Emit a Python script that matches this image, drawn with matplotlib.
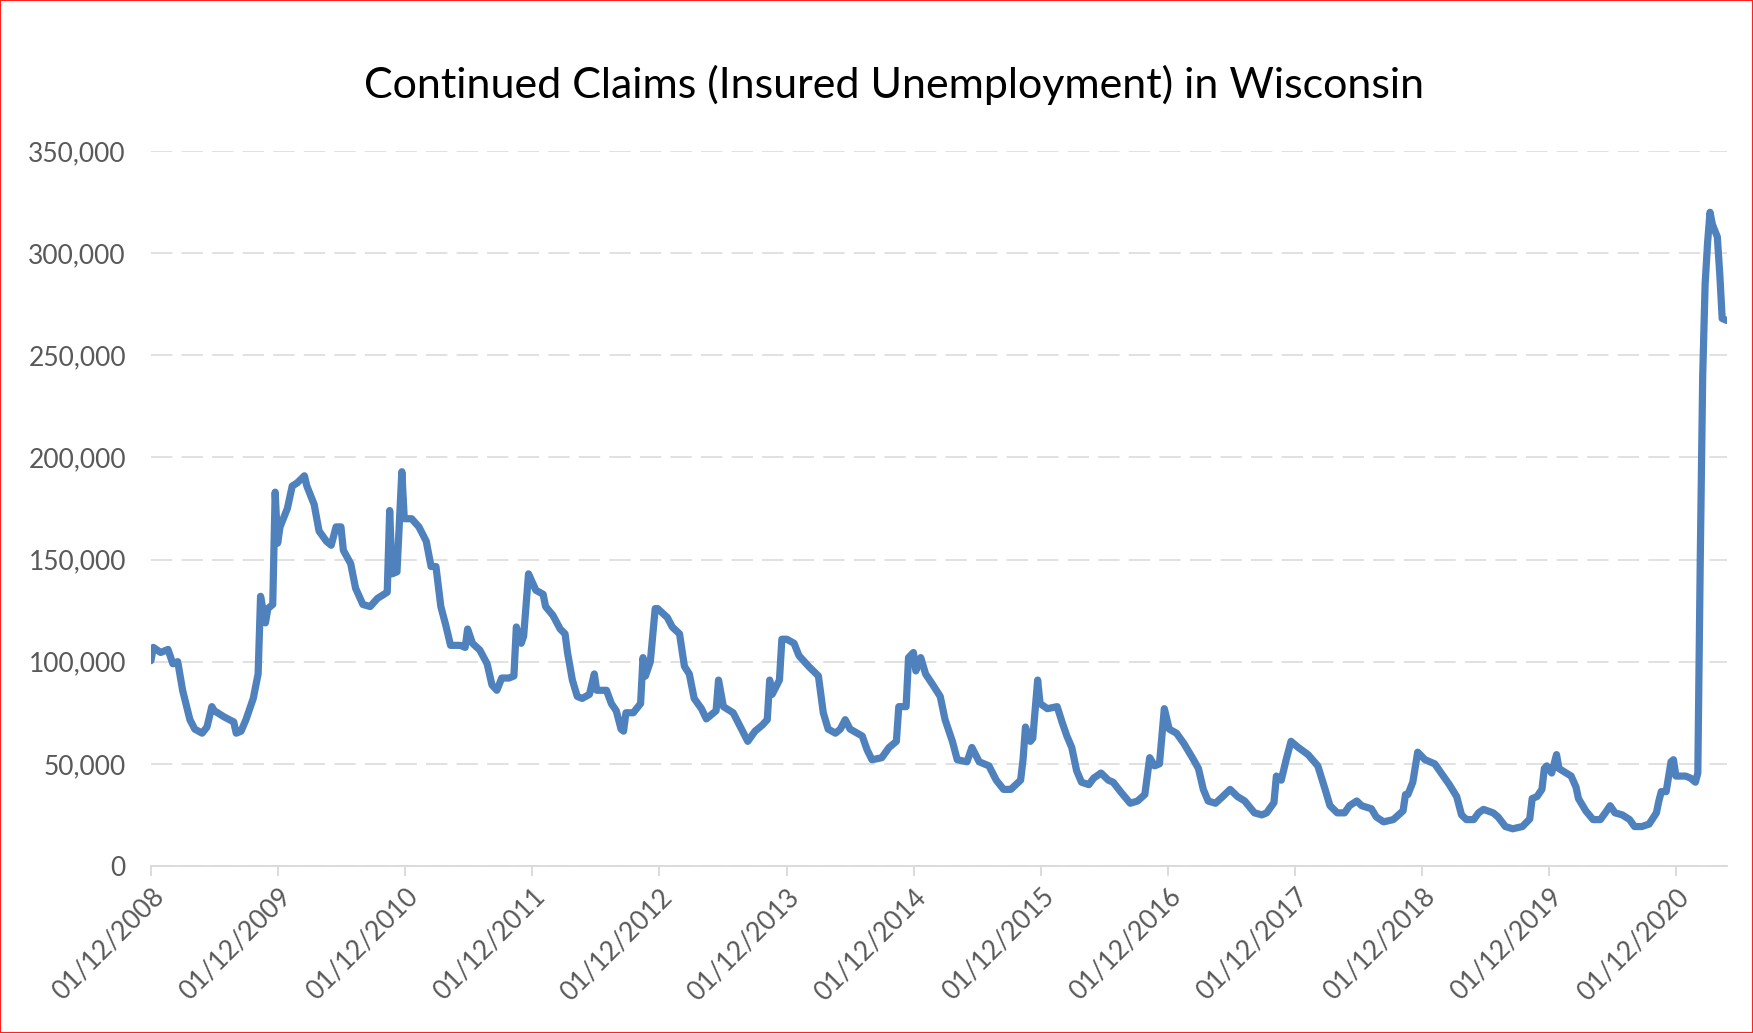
import numpy as np
import pandas as pd
import matplotlib
matplotlib.use("Agg")
import matplotlib.pyplot as plt
import matplotlib.dates as mdates
from matplotlib.ticker import FuncFormatter
from matplotlib.patches import Rectangle

plt.rcParams['font.family'] = ['Lato', 'DejaVu Sans']

title = "Continued Claims (Insured Unemployment) in Wisconsin"
start_date = "2008-01-12"

# weeks since 01/12/2008
week_no = [
    0, 1, 4, 7, 9, 11, 13, 16, 18, 21, 23, 25, 26, 30, 34, 35, 37, 39, 42, 44,
    45, 47, 48, 50, 51, 52, 53, 56, 58, 60, 63, 64, 67, 69, 72, 74, 76, 78, 79, 82,
    84, 87, 90, 93, 97, 98, 99, 101, 103, 104, 107, 110, 113, 115, 117, 119, 121, 123, 127, 129,
    130, 132, 135, 138, 140, 142, 144, 147, 149, 150, 152, 153, 155, 158, 161, 162, 165, 168, 170, 171,
    173, 175, 177, 180, 182, 183, 187, 189, 191, 193, 194, 195, 198, 201, 202, 203, 205, 207, 208, 212,
    214, 217, 219, 221, 223, 226, 228, 232, 233, 235, 239, 242, 245, 248, 251, 253, 254, 255, 258, 259,
    261, 264, 266, 270, 274, 276, 278, 281, 283, 285, 287, 292, 294, 296, 300, 303, 306, 307, 310, 311,
    313, 314, 316, 318, 321, 324, 326, 329, 331, 335, 337, 340, 344, 347, 350, 353, 357, 358, 359, 361,
    362, 364, 365, 368, 372, 374, 376, 378, 380, 382, 385, 387, 390, 393, 395, 398, 402, 405, 408, 410,
    412, 414, 416, 418, 421, 424, 428, 430, 432, 434, 437, 440, 443, 446, 449, 453, 456, 458, 461, 462,
    464, 466, 468, 471, 475, 479, 482, 484, 487, 490, 492, 495, 497, 501, 503, 506, 510, 514, 515, 516,
    518, 520, 521, 523, 527, 529, 533, 536, 538, 540, 543, 545, 547, 551, 553, 556, 559, 563, 566, 567,
    569, 571, 572, 573, 575, 577, 578, 581, 583, 585, 586, 589, 592, 595, 597, 599, 601, 604, 607, 609,
    612, 615, 618, 619, 620, 622, 624, 625, 626, 630, 632, 634, 635, 636, 637, 638, 639, 640, 641, 642,
    643, 644, 645, 646, 647,
]

claims = [
    100500, 107000, 104500, 106000, 99000, 100000, 86000, 71600, 67000, 65000, 68000, 78000, 76000, 73000, 70500, 65000, 66000, 71600, 82000, 94000,
    132000, 119000, 126000, 128000, 183000, 158000, 166000, 175000, 186000, 187500, 191000, 186000, 177000, 164000, 159000, 157000, 166000, 166000, 154500, 148000,
    136000, 128000, 127000, 131000, 134000, 174000, 143000, 144000, 193000, 170000, 170000, 166000, 159000, 146600, 146600, 127000, 118000, 108000, 108000, 107000,
    116000, 109000, 105700, 99000, 88600, 86000, 92000, 92000, 93000, 117000, 109000, 112500, 143000, 135000, 133000, 127000, 122700, 116000, 113600, 104500,
    91000, 83000, 82000, 84000, 94000, 86000, 86000, 79500, 76000, 67000, 66000, 75000, 75000, 79500, 102000, 93000, 100000, 126000, 126000, 121600,
    117000, 113600, 97700, 94000, 82000, 77000, 72000, 76000, 91000, 78000, 75000, 68000, 61000, 66000, 69000, 71600, 91000, 84000, 91000, 111000,
    111000, 109000, 103000, 97700, 93000, 75000, 67000, 65000, 67000, 71600, 67000, 63600, 56800, 52000, 53000, 58000, 61000, 78000, 78000, 102000,
    104500, 95500, 102000, 94000, 88600, 83000, 71600, 61000, 52000, 51000, 58000, 51000, 49000, 42000, 37500, 37500, 42000, 52000, 68000, 61000,
    62500, 91000, 79500, 77000, 78000, 70500, 63600, 58000, 46600, 41000, 39800, 43000, 45500, 42000, 41000, 36400, 30700, 31800, 35000, 53000,
    49000, 50000, 77000, 67000, 65000, 60000, 52000, 47700, 37500, 31800, 30700, 34000, 37500, 34000, 31800, 26000, 25000, 26000, 31000, 44000,
    42000, 52000, 61000, 58000, 54500, 49000, 37500, 29500, 26000, 26000, 29500, 31800, 29500, 28000, 24000, 21600, 22700, 27000, 35000, 35000,
    41000, 55700, 54500, 52000, 50000, 46600, 39800, 34000, 25000, 22700, 22700, 26000, 27700, 26000, 24000, 19300, 18200, 19300, 23000, 33000,
    34000, 37500, 47700, 49000, 45500, 54500, 47700, 45500, 44000, 38600, 33000, 27000, 22700, 22700, 26000, 29500, 26000, 25000, 22700, 19300,
    19300, 20500, 26000, 31800, 36400, 36400, 51000, 52000, 44000, 44000, 43000, 41000, 45500, 150000, 240000, 285000, 305000, 320000, 314000, 311000,
    308000, 290000, 268000, 267500, 267000,
]

tick_years = list(range(2008, 2021))
y_ticks = [0, 50000, 100000, 150000, 200000, 250000, 300000, 350000]

dates = pd.Timestamp(start_date) + pd.to_timedelta(np.array(week_no) * 7, unit="D")
tick_dates = [pd.Timestamp(year=y, month=1, day=12) for y in tick_years]

fig = plt.figure(figsize=(17.53, 10.33), dpi=100)
ax = fig.add_axes([0.0861, 0.1617, 0.8991, 0.6921])

ax.plot(dates, claims, color="#4F81BD", lw=5.2, solid_joinstyle="round", solid_capstyle="round")

ax.set_ylim(0, 350000)
ax.set_yticks(y_ticks)
ax.yaxis.set_major_formatter(FuncFormatter(lambda v, p: f"{v:,.0f}"))
ax.set_xlim(dates[0], dates[-1])
ax.set_xticks(tick_dates)
ax.xaxis.set_major_formatter(mdates.DateFormatter("%m/%d/%Y"))

ax.grid(axis="y", color="#D9D9D9", lw=1.1, linestyle=(0, (14, 6)))
ax.set_axisbelow(True)
for s in ["top", "right", "left"]:
    ax.spines[s].set_visible(False)
ax.spines["bottom"].set_color("#D9D9D9")
ax.spines["bottom"].set_linewidth(1.3)

ax.tick_params(axis="y", length=0, pad=18, labelsize=19, labelcolor="#595959")
ax.tick_params(axis="x", length=7, width=1.3, color="#D9D9D9", pad=6, labelsize=19, labelcolor="#595959")
for lab in ax.get_xticklabels():
    lab.set_rotation(45)
    lab.set_ha("right")
    lab.set_va("top")
    lab.set_rotation_mode("anchor")

fig.text(0.51, 0.918, title, ha="center", va="center", fontsize=31, color="black")

fig.patches.append(Rectangle((0, 0), 1, 1, transform=fig.transFigure, fill=False,
                             edgecolor="#FF2020", lw=1.5))

fig.savefig("out.png", dpi=100, facecolor="white")
